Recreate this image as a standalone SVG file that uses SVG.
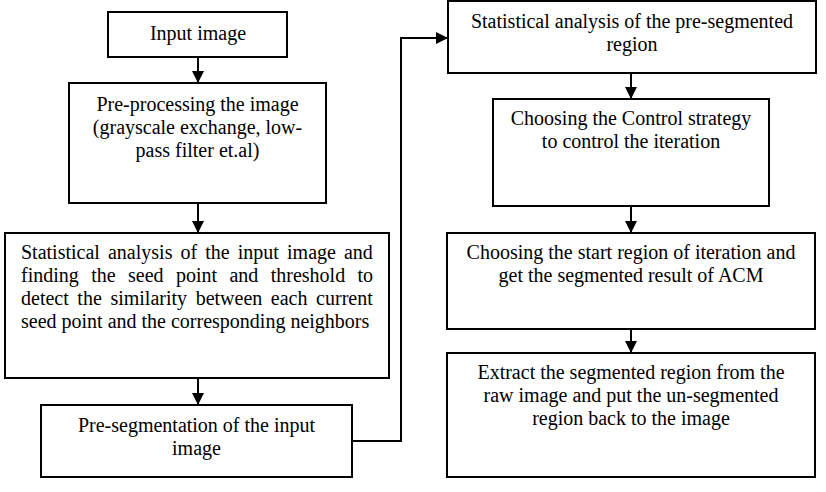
<svg xmlns="http://www.w3.org/2000/svg" width="826" height="492" viewBox="0 0 826 492">
<defs>
<marker id="arr" markerWidth="12" markerHeight="12" viewBox="0 0 12 12" refX="12" refY="6" orient="auto" markerUnits="userSpaceOnUse">
<path d="M0,0 L12,6 L0,12 Z" fill="#000"/>
</marker>
<style>
.box{fill:#fff;stroke:#000;stroke-width:2}
.ln{fill:none;stroke:#000;stroke-width:2}
</style>
</defs>
<rect width="826" height="492" fill="#fff"/>
<g font-family="Liberation Serif, Times New Roman, serif" font-size="20" fill="#000">
<g id="n1"><rect class="box" x="108" y="12" width="179" height="45"/>
<text text-anchor="middle" x="198" y="40">Input image</text></g>
<g id="n2"><rect class="box" x="69" y="83" width="257" height="120"/>
<text text-anchor="middle" x="197.5" y="111">Pre-processing the image</text>
<text text-anchor="middle" x="197.5" y="134">(grayscale exchange, low-</text>
<text text-anchor="middle" x="197.5" y="157">pass filter et.al)</text></g>
<g id="n3"><rect class="box" x="5" y="233" width="384" height="145"/>
<text x="21" y="259" word-spacing="3.1">Statistical analysis of the input image and</text>
<text x="21" y="282" word-spacing="7.4">finding the seed point and threshold to</text>
<text x="21" y="305" word-spacing="3.6">detect the similarity between each current</text>
<text x="21" y="328">seed point and the corresponding neighbors</text></g>
<g id="n4"><rect class="box" x="41" y="405" width="311" height="72"/>
<text text-anchor="middle" x="196.5" y="432">Pre-segmentation of the input</text>
<text text-anchor="middle" x="196.5" y="455">image</text></g>
<g id="n5"><rect class="box" x="448" y="1" width="368" height="72"/>
<text text-anchor="middle" x="632" y="28">Statistical analysis of the pre-segmented</text>
<text text-anchor="middle" x="632" y="51">region</text></g>
<g id="n6"><rect class="box" x="493" y="99" width="276" height="107"/>
<text text-anchor="middle" x="631" y="125">Choosing the Control strategy</text>
<text text-anchor="middle" x="631" y="148">to control the iteration</text></g>
<g id="n7"><rect class="box" x="447" y="233" width="368" height="96"/>
<text text-anchor="middle" x="631" y="259">Choosing the start region of iteration and</text>
<text text-anchor="middle" x="631" y="282">get the segmented result of ACM</text></g>
<g id="n8"><rect class="box" x="447" y="353" width="368" height="124"/>
<text text-anchor="middle" x="631" y="379">Extract the segmented region from the</text>
<text text-anchor="middle" x="631" y="402">raw image and put the un-segmented</text>
<text text-anchor="middle" x="631" y="425">region back to the image</text></g>
</g>
<g id="connectors">
<line class="ln" x1="198" y1="57" x2="198" y2="83" marker-end="url(#arr)"/>
<line class="ln" x1="198" y1="203" x2="198" y2="233" marker-end="url(#arr)"/>
<line class="ln" x1="198" y1="378" x2="198" y2="405" marker-end="url(#arr)"/>
<polyline class="ln" points="352,441 401,441 401,38 448,38" marker-end="url(#arr)"/>
<line class="ln" x1="631" y1="73" x2="631" y2="99" marker-end="url(#arr)"/>
<line class="ln" x1="631" y1="206" x2="631" y2="233" marker-end="url(#arr)"/>
<line class="ln" x1="631" y1="329" x2="631" y2="353" marker-end="url(#arr)"/>
</g>
</svg>
